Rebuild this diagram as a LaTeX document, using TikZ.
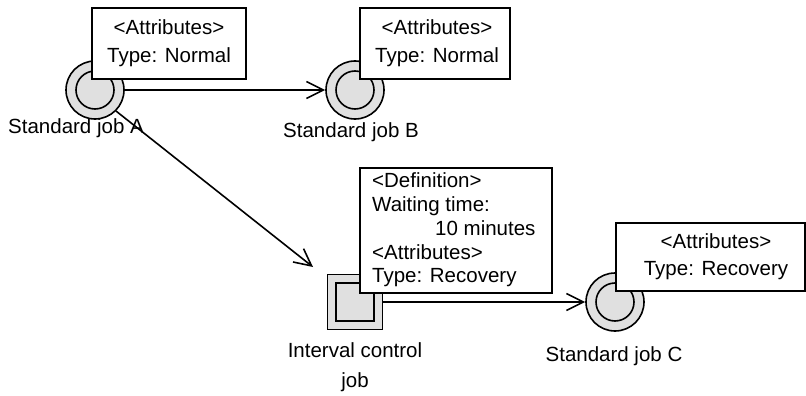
\documentclass[tikz,border=0pt]{standalone}
\usepackage{fontspec}
\setmainfont{Liberation Sans}
\usetikzlibrary{arrows.meta}
\definecolor{jobgray}{HTML}{E0E0E0}
\begin{document}
\begin{tikzpicture}[x=1pt,y=-1pt,
  every node/.style={font=\fontsize{20.5}{28}\selectfont},
  jobc/.style={circle, draw, line width=1.6pt, fill=jobgray, minimum size=58pt, inner sep=0pt},
  ring/.style={draw, line width=1.6pt, fill=jobgray},
  icj/.style={rectangle, draw, line width=1.6pt, fill=jobgray, minimum size=55pt, inner sep=0pt},
  icjin/.style={rectangle, draw, line width=1.6pt, fill=jobgray, minimum size=38pt, inner sep=0pt},
  box/.style={rectangle, draw, line width=1.6pt, fill=white, inner sep=0pt},
  lbl/.style={inner sep=0pt, align=center},
  arr/.style={line width=1.6pt, -{Straight Barb[length=17pt,width=17pt,line width=1.6pt]}}
]
\useasboundingbox (0,0) rectangle (806,396);

% jobs
\node[jobc] (A) at (95,90) {};
\draw[ring] (A.center) circle[radius=19];
\node[jobc] (B) at (355,90) {};
\draw[ring] (B.center) circle[radius=19];
\node[jobc] (C) at (615,302) {};
\draw[ring] (C.center) circle[radius=19];
\node[icj] (I) at (355,302) {};
\node[icjin] (Iin) at (I.center) {};

% labels
\node[lbl] (Alab) at (76,128) {Standard job A};
\node[lbl] (Blab) at (351,132) {Standard job B};
\node[lbl] (Clab) at (614,356) {Standard job C};
\node[lbl, font=\fontsize{20.5}{30}\selectfont] (Ilab) at (355,367) {Interval control\\job};

% connectors
\coordinate (Itip) at (313,267);
\draw[arr] (A) -- (B);
\draw[arr] (A.-45) -- (Itip);
\draw[arr] (I) -- (C);

% attribute boxes
\node[box, minimum width=154pt, minimum height=71pt] (Abox) at (169,43.5) {};
\node[lbl, font=\fontsize{20.5}{28}\selectfont] (Atext) at (169,43.5) {\textless Attributes\textgreater\\Type: Normal};

\node[box, minimum width=150pt, minimum height=71pt] (Bbox) at (435,43.5) {};
\node[lbl, font=\fontsize{20.5}{28}\selectfont] (Btext) at (437,43.5) {\textless Attributes\textgreater\\Type: Normal};

\node[box, minimum width=192pt, minimum height=125pt] (Ibox) at (456,230.5) {};
\node[inner sep=0pt, align=left, anchor=west, font=\fontsize{20.5}{23.7}\selectfont] (Itext) at (372,230) {\textless Definition\textgreater\\Waiting time:\\\hspace*{63pt}10 minutes\\\textless Attributes\textgreater\\Type: Recovery};

\node[box, minimum width=189pt, minimum height=68pt] (Cbox) at (710.5,257) {};
\node[lbl, font=\fontsize{20.5}{27}\selectfont] (Ctext) at (716,257) {\textless Attributes\textgreater\\Type: Recovery};
\end{tikzpicture}
\end{document}
